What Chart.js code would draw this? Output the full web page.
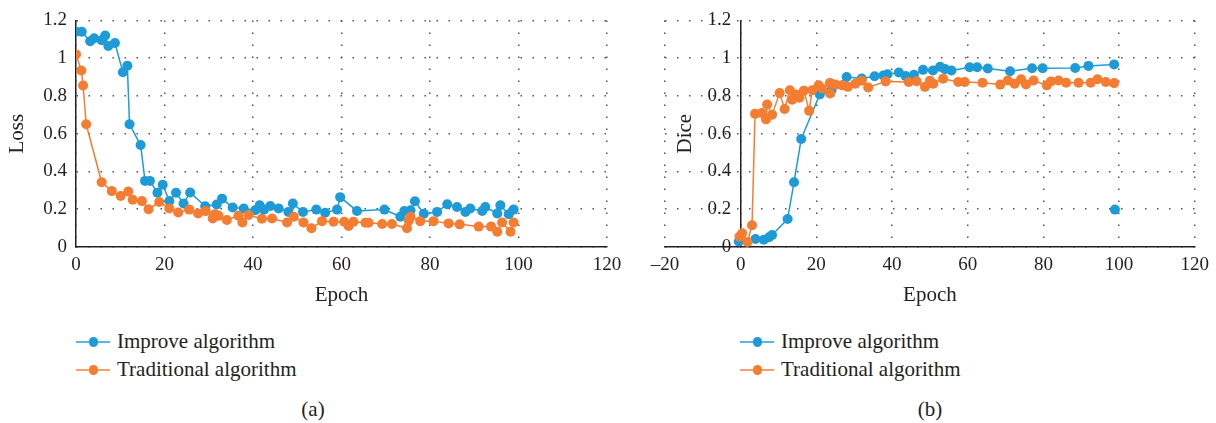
<!DOCTYPE html>
<html>
<head>
<meta charset="utf-8">
<script src="https://cdn.jsdelivr.net/npm/chart.js@4.4.1/dist/chart.umd.min.js"></script>
<style>
  body { margin: 0; background: #fff; width: 1216px; height: 423px; position: relative; overflow: hidden;
         font-family: "Liberation Serif", serif; color: #231f20; }
  canvas { position: absolute; top: 0; }
  .legend-item { position: absolute; height: 24px; line-height: 24px; font-size: 21px; white-space: nowrap; }
  .swatch { position: absolute; top: 12px; width: 34px; height: 1.5px; }
  .dot { position: absolute; top: -4px; left: 12.5px; width: 9.5px; height: 9.5px; border-radius: 50%; }
  .caption { position: absolute; top: 396px; font-size: 21px; line-height: 26px; transform: translateX(-50%); }
</style>
</head>
<body>
<canvas id="loss-chart" width="640" height="310" style="left:0"></canvas>
<canvas id="dice-chart" width="608" height="310" style="left:608px"></canvas>
<div class="caption" style="left:313px">(a)</div>
<div class="caption" style="left:930px">(b)</div>
<script>
var seriesNames = ["Improve algorithm", "Traditional algorithm"];

// loss, panel (a)
var lossImproveX = [0, 1.3, 3.2, 4.1, 5.8, 6.6, 7.3, 8.8, 10.6, 11.6, 12.1, 14.6, 15.6, 16.7, 18.4, 19.6, 21.1, 22.6, 24.3, 25.8,
  29.2, 31.8, 33, 35.4, 37.9, 40.5, 41.5, 42.5, 43.9, 45.8, 48, 49, 51.3, 54.3, 56.3, 59, 59.7, 63.5, 69.7, 73.3,
  74.2, 75.6, 76.6, 78.6, 81.6, 83.9, 86.1, 88, 89.1, 91.8, 92.5, 95.2, 95.9, 97.8, 98.9];
var lossImproveY = [1.14, 1.14, 1.09, 1.105, 1.095, 1.12, 1.065, 1.08, 0.925, 0.96, 0.65, 0.54, 0.35, 0.35, 0.287, 0.33, 0.243, 0.287, 0.23, 0.289,
  0.216, 0.225, 0.256, 0.209, 0.204, 0.195, 0.221, 0.198, 0.217, 0.204, 0.186, 0.23, 0.186, 0.198, 0.181, 0.198, 0.264, 0.191, 0.198, 0.16,
  0.191, 0.195, 0.242, 0.176, 0.186, 0.226, 0.212, 0.186, 0.204, 0.191, 0.212, 0.178, 0.221, 0.174, 0.198];
var lossTradX = [0, 1.2, 1.6, 2.3, 5.8, 8.1, 10.1, 11.8, 12.8, 14.9, 16.4, 18.8, 21.1, 23.1, 25.6, 27.6, 29.3, 30.9, 31.4, 32.2,
  34.1, 36.7, 37.6, 39, 42, 44.3, 47.7, 49.2, 51.4, 53.2, 55.6, 58.2, 60.6, 61.6, 62.7, 65.4, 66.1, 69.2, 71.4, 74.8,
  75.2, 75.6, 77.8, 80.8, 84.2, 86.7, 91, 93.8, 95.2, 96.3, 98.2, 98.9];
var lossTradY = [1.02, 0.935, 0.855, 0.65, 0.343, 0.296, 0.27, 0.294, 0.25, 0.243, 0.2, 0.238, 0.204, 0.183, 0.198, 0.178, 0.19, 0.151, 0.174, 0.165,
  0.143, 0.166, 0.13, 0.169, 0.15, 0.151, 0.13, 0.16, 0.13, 0.099, 0.137, 0.134, 0.134, 0.111, 0.134, 0.128, 0.128, 0.122, 0.122, 0.099,
  0.139, 0.16, 0.137, 0.137, 0.125, 0.12, 0.108, 0.108, 0.081, 0.13, 0.081, 0.13];

// dice, panel (b)
var diceImproveX = [-0.5, 3.9, 6.1, 7.5, 8.3, 12.4, 14.1, 16, 20.9, 24, 28, 32, 35.4, 37.7, 38.8, 41.8, 43.6, 45.8, 48.2, 50.8,
  52.7, 54, 55.7, 60.5, 62.5, 65.3, 71.2, 77, 79.8, 88.4, 91.9, 98.7];
var diceImproveY = [0.029, 0.042, 0.038, 0.052, 0.064, 0.148, 0.343, 0.572, 0.808, 0.83, 0.9, 0.892, 0.904, 0.908, 0.915, 0.924, 0.905, 0.912, 0.938, 0.935,
  0.954, 0.942, 0.935, 0.952, 0.952, 0.945, 0.931, 0.947, 0.947, 0.948, 0.959, 0.967];
var diceOutlierX = [98.9];
var diceOutlierY = [0.198];
var diceTradX = [-0.3, 0.4, 1.8, 3, 3.8, 5.6, 6.7, 7, 8.3, 10.3, 11.6, 13, 13.6, 14.7, 15.5, 16.7, 18.1, 18.9, 20.6, 21.5,
  23.6, 23.6, 25, 26.8, 28.3, 30.3, 32, 33.7, 38.3, 44.4, 46.5, 48.7, 50, 50.9, 53.5, 57.5, 59.2, 63.9, 68.6, 70.6,
  72.4, 74.1, 75.4, 77.4, 80.9, 82, 84, 86, 89.3, 92.5, 94.3, 96.5, 98.7];
var diceTradY = [0.055, 0.073, 0.027, 0.115, 0.705, 0.71, 0.676, 0.755, 0.701, 0.815, 0.731, 0.83, 0.78, 0.808, 0.79, 0.828, 0.721, 0.83, 0.856, 0.839,
  0.813, 0.869, 0.86, 0.856, 0.848, 0.865, 0.88, 0.845, 0.877, 0.874, 0.878, 0.848, 0.88, 0.865, 0.891, 0.874, 0.874, 0.87, 0.86, 0.882,
  0.865, 0.888, 0.861, 0.882, 0.856, 0.877, 0.882, 0.87, 0.87, 0.87, 0.888, 0.874, 0.868];

var lossXTicks = [0, 20, 40, 60, 80, 100, 120];
var lossXTickLabels = ["0", "20", "40", "60", "80", "100", "120"];
var diceXTicks = [-20, 0, 20, 40, 60, 80, 100, 120];
var diceXTickLabels = ["\u201320", "0", "20", "40", "60", "80", "100", "120"];
var yTicks = [0, 0.2, 0.4, 0.6, 0.8, 1, 1.2];
var yTickLabels = ["0", "0.2", "0.4", "0.6", "0.8", "1", "1.2"];

var blue = "#1e9bd7";
var orange = "#f47d31";
var legendLine = ["#5cb6e6", "#f6a06c"];
var textColor = "#231f20";
var serif = "Liberation Serif";

function pts(xs, ys) {
  return xs.map(function (x, i) { return { x: x, y: ys[i] }; });
}

function series(label, xs, ys, color, order) {
  return {
    label: label, data: pts(xs, ys), showLine: true,
    borderColor: color, backgroundColor: color, borderWidth: 1.5,
    pointRadius: 5, pointHoverRadius: 5, pointBorderWidth: 0, order: order
  };
}

var gridOpts = { color: "#555", lineWidth: 1.5, drawTicks: false };
var borderOpts = { color: textColor, width: 1.5, dash: [1.5, 10.5] };

function xScale(min, ticks, labels) {
  return {
    type: "linear", min: min, max: 120,
    afterBuildTicks: function (s) { s.ticks = ticks.map(function (v) { return { value: v }; }); },
    afterFit: function (s) { s.height = 310 - 247; },
    grid: gridOpts, border: borderOpts,
    ticks: { padding: 7, color: textColor, font: { family: serif, size: 19 },
             callback: function (v, i) { return labels[i]; } },
    title: { display: true, text: "Epoch", color: textColor, font: { family: serif, size: 21 }, padding: { top: 4, bottom: 2 } }
  };
}

function yScale(gap) {
  return {
    type: "linear", min: 0, max: 1.2,
    afterBuildTicks: function (s) { s.ticks = yTicks.map(function (v) { return { value: v }; }); },
    grid: gridOpts, border: borderOpts,
    ticks: { padding: 9, color: textColor, font: { family: serif, size: 19 },
             callback: function (v, i) { return yTickLabels[i] + gap; } }
  };
}

var lossY = yScale("");
lossY.afterFit = function (s) { s.width = 76; };
lossY.title = { display: true, text: "Loss", color: textColor, font: { family: serif, size: 21 }, padding: { top: 5 } };

new Chart("loss-chart", {
  type: "scatter",
  data: {
    datasets: [
      series(seriesNames[0], lossImproveX, lossImproveY, blue, 2),
      series(seriesNames[1], lossTradX, lossTradY, orange, 1)
    ]
  },
  options: {
    responsive: false, animation: false,
    layout: { padding: { top: 17, right: 33, bottom: 0, left: 0 } },
    plugins: { legend: { display: false }, tooltip: { enabled: false } },
    scales: { x: xScale(0, lossXTicks, lossXTickLabels), y: lossY }
  }
});

// y axis of (b) crosses at x = 0: labels get a trailing gap, title drawn by hand
var diceY = yScale("  ");
diceY.position = { x: 0 };

var diceTitle = {
  id: "diceTitle",
  afterDraw: function (chart) {
    var ctx = chart.ctx, area = chart.chartArea;
    var x = chart.scales.x.getPixelForValue(0) - 55;
    ctx.save();
    ctx.translate(x, (area.top + area.bottom) / 2);
    ctx.rotate(-Math.PI / 2);
    ctx.font = "21px '" + serif + "'";
    ctx.fillStyle = textColor;
    ctx.textAlign = "center";
    ctx.textBaseline = "middle";
    ctx.fillText("Dice", 0, 0);
    ctx.restore();
  }
};

new Chart("dice-chart", {
  type: "scatter",
  data: {
    datasets: [
      series(seriesNames[0], diceImproveX, diceImproveY, blue, 2),
      series(seriesNames[1], diceTradX, diceTradY, orange, 1),
      Object.assign(series("outlier", diceOutlierX, diceOutlierY, blue, 3), { showLine: false })
    ]
  },
  options: {
    responsive: false, animation: false,
    layout: { padding: { top: 17, right: 20, bottom: 0, left: 57 } },
    plugins: { legend: { display: false }, tooltip: { enabled: false } },
    scales: { x: xScale(-20, diceXTicks, diceXTickLabels), y: diceY }
  },
  plugins: [diceTitle]
});

// legends under each panel
function addLegend(left) {
  [blue, orange].forEach(function (color, i) {
    var item = document.createElement("div");
    item.className = "legend-item";
    item.style.left = left + "px";
    item.style.top = (329 + i * 28) + "px";
    item.innerHTML = '<span class="swatch" style="left:0;background:' + legendLine[i] + '">' +
      '<span class="dot" style="background:' + color + '"></span></span>' +
      '<span style="position:absolute;left:41px">' + seriesNames[i] + '</span>';
    document.body.appendChild(item);
  });
}
addLegend(76);
addLegend(740);
</script>
</body>
</html>
